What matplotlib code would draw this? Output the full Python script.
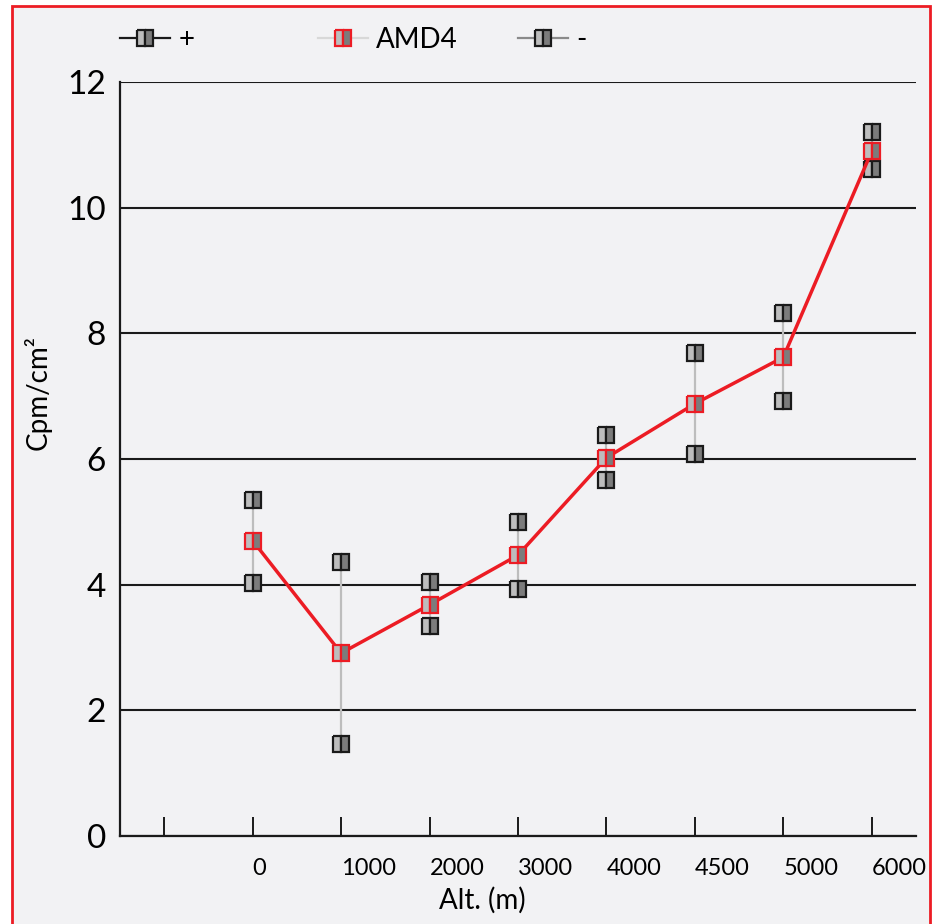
import numpy as np
import matplotlib
matplotlib.use('Agg')
import matplotlib.pyplot as plt
from matplotlib.lines import Line2D
from matplotlib.patches import Rectangle

plt.rcParams['font.family'] = ['Lato', 'DejaVu Sans']

# categories on the x axis (first slot is left empty in the original)
categories = ['', '0', '1000', '2000', '3000', '4000', '4500', '5000', '6000']
altitudes = ['0', '1000', '2000', '3000', '4000', '4500', '5000', '6000']

amd4 = [4.70, 2.91, 3.68, 4.47, 6.02, 6.88, 7.62, 10.90]
plus = [5.35, 4.36, 4.04, 5.00, 6.38, 7.69, 8.32, 11.20]
minus = [4.03, 1.46, 3.34, 3.93, 5.67, 6.08, 6.92, 10.62]

yticks = [0, 2, 4, 6, 8, 10, 12]

bg = '#f2f2f4'
red = '#ec1c24'
light = '#bdbdbd'
dark = '#7c7c7c'

fig = plt.figure(figsize=(9.38, 9.24), dpi=100)
fig.patch.set_facecolor('white')
# red frame around the panel
fig.add_artist(Rectangle((12 / 938, -0.05), (930 - 12) / 938, 1 - 6 / 924 + 0.05,
                         transform=fig.transFigure, facecolor=bg, edgecolor=red,
                         linewidth=2, zorder=0))

ax = fig.add_axes([120 / 938, 1 - 836 / 924, (916 - 120) / 938, (836 - 82) / 924])
ax.set_facecolor('none')

x = np.array([categories.index(a) for a in altitudes])

# high-low connectors between + and -
ax.vlines(x, minus, plus, color='#bdbdbd', linewidth=1.6, zorder=2)

marker_kw = dict(marker='s', markersize=11, fillstyle='left',
                 markerfacecolor=light, markerfacecoloralt=dark, markeredgewidth=1.6)

ax.plot(x, plus, linestyle='none', markeredgecolor='#1a1a1a', zorder=4, **marker_kw)
ax.plot(x, minus, linestyle='none', markeredgecolor='#1a1a1a', zorder=4, **marker_kw)
ax.plot(x, amd4, color=red, linewidth=2.5, markeredgecolor=red, zorder=5, **marker_kw)

ax.set_xlim(-0.5, len(categories) - 0.5)
ax.set_ylim(0, 12)
ax.set_yticks(yticks)
ax.set_yticklabels([str(v) for v in yticks], fontsize=24)
ax.set_xticks(range(len(categories)))
ax.set_xticklabels(categories, fontsize=17, ha='left')

ax.tick_params(axis='y', length=0, pad=10)
ax.tick_params(axis='x', direction='in', length=13.5, width=1.4, color='#1a1a1a', pad=16)

ax.grid(axis='y', color='#1a1a1a', linewidth=1.5, zorder=1)
ax.set_axisbelow(True)
for side in ['top', 'right']:
    ax.spines[side].set_visible(False)
for side in ['left', 'bottom']:
    ax.spines[side].set_linewidth(1.6)
    ax.spines[side].set_color('#1a1a1a')

fig.text(38 / 938, 1 - 392 / 924, 'Cpm/cm²', rotation=90, ha='center', va='center', fontsize=20)
fig.text(482 / 938, 1 - 900 / 924, 'Alt. (m)', ha='center', va='center', fontsize=20)

# legend: three fixed-position entries like the original
entries = [
    ('+', '#1a1a1a', '#1a1a1a', 120),
    ('AMD4', '#d8d8d8', red, 318),
    ('-', '#8a8a8a', '#1a1a1a', 518),
]
for label, lc, ec, xpos in entries:
    h = Line2D([], [], color=lc, linewidth=1.6, markeredgecolor=ec, **marker_kw)
    fig.legend([h], [label], loc='center left', bbox_to_anchor=(xpos / 938, 1 - 40 / 924),
               frameon=False, fontsize=20, handlelength=1.8, handletextpad=0.3,
               borderpad=0, borderaxespad=0)

fig.savefig('out.png', dpi=100, facecolor=fig.get_facecolor())
